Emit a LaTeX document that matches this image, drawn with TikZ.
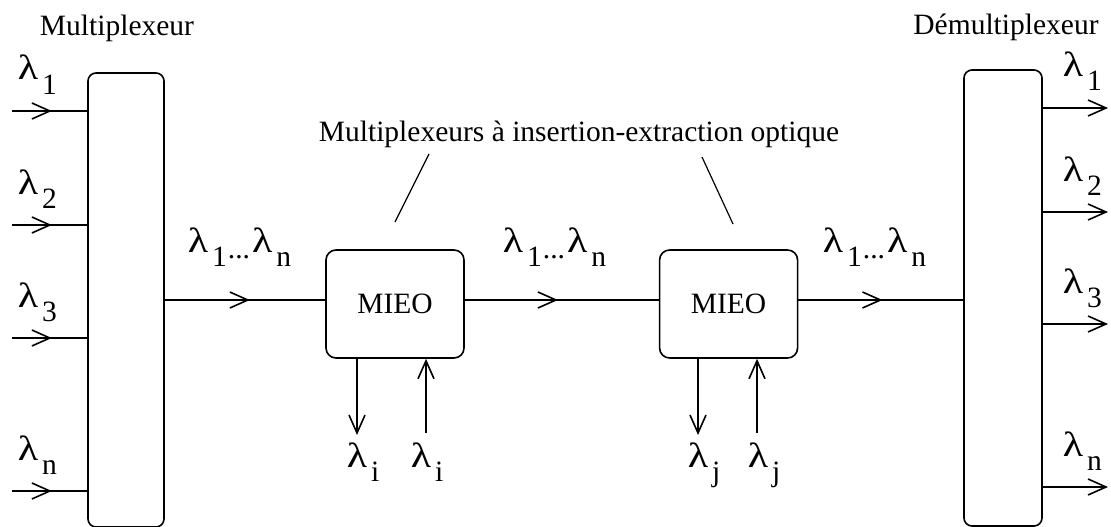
\documentclass[tikz,border=0pt]{standalone}
\usepackage{graphicx}
\usepackage{fontspec}
\setmainfont{Liberation Serif}
\usetikzlibrary{arrows.meta,positioning,decorations.markings}
\newcommand{\lam}[1]{\scalebox{1.2}[1]{\fontsize{35}{35}\selectfont λ}\kern4pt\raisebox{-14pt}{#1}}
\newcommand{\band}{\lam{1}\kern1pt\raisebox{-6pt}{...}\kern2pt\lam{n}}

\begin{document}
\begin{tikzpicture}[
  x=1pt, y=-1pt,
  font=\fontsize{29.5}{34}\selectfont,
  line width=1.6pt,
  barb/.tip={Straight Barb[length=18pt,width=16pt]},
  box/.style={draw, rounded corners=8pt, inner sep=0pt},
  arr/.style={-barb},
  mid/.style={postaction={decorate}, decoration={markings, mark=at position #1 with {\arrow{barb}}}},
  lab/.style={anchor=base west, inner sep=0pt},
  title/.style={anchor=base, inner sep=0pt}
]
\useasboundingbox (0,0) rectangle (1111,527);

\node[box, minimum width=76pt, minimum height=454pt] (mux) at (126,300) {};
\node[box, minimum width=78pt, minimum height=456pt] (demux) at (1003,298) {};
\node[box, rounded corners=10pt, minimum width=138pt, minimum height=108pt] (mieo1) at (395,304) {MIEO};
\node[box, rounded corners=10pt, minimum width=138pt, minimum height=108pt, right=194pt of mieo1] (mieo2) {MIEO};

\node[title] (muxlab) at (117,36) {Multiplexeur};
\node[title] (demuxlab) at (1006,35) {Démultiplexeur};
\node[title] (mieolab) at (579,141) {Multiplexeurs à insertion-extraction optique};

% entrees et sorties
\foreach \y/\s [count=\i] in {111/1,225/2,338/3,491/n} {
  \coordinate (in\i) at (12,\y);
  \draw[mid=0.53] (in\i) -- (in\i -| mux.west);
  \node[lab] (lin\i) at (17,\y-31) {\lam{\s}};
}
\foreach \y/\s [count=\i] in {108/1,212/2,324/3,487/n} {
  \coordinate (out\i) at (1108,\y);
  \draw[arr] (out\i -| demux.east) -- (out\i);
  \node[lab] (lout\i) at (1062,\y-31) {\lam{\s}};
}

% ligne principale
\coordinate (bus) at (0,300);
\draw[mid=0.53] (mux.east |- bus) -- (mieo1.west |- bus);
\draw[mid=0.48] (mieo1.east |- bus) -- (mieo2.west |- bus);
\draw[mid=0.51] (mieo2.east |- bus) -- (demux.west |- bus);
\node[lab] (w1) at (187,252) {\band};
\node[lab] (w2) at (502,252) {\band};
\node[lab] (w3) at (822,252) {\band};

% insertion / extraction
\coordinate (d1) at (357,435);
\coordinate (u1) at (426,433);
\coordinate (d2) at (698,435);
\coordinate (u2) at (757,433);
\draw[arr] (d1 |- mieo1.south) -- (d1);
\draw[arr] (u1) -- (u1 |- mieo1.south);
\draw[arr] (d2 |- mieo2.south) -- (d2);
\draw[arr] (u2) -- (u2 |- mieo2.south);
\node[lab] (li1) at (346,467) {\lam{i}};
\node[lab] (li2) at (410,467) {\lam{i}};
\node[lab] (lj1) at (687,467) {\lam{j}};
\node[lab] (lj2) at (747,467) {\lam{j}};

% renvois
\coordinate (t1a) at (429,154);
\coordinate (t1b) at (395,222);
\coordinate (t2a) at (702,157);
\coordinate (t2b) at (733,224);
\draw[line width=1.2pt] (t1a) -- (t1b);
\draw[line width=1.2pt] (t2a) -- (t2b);
\end{tikzpicture}
\end{document}
